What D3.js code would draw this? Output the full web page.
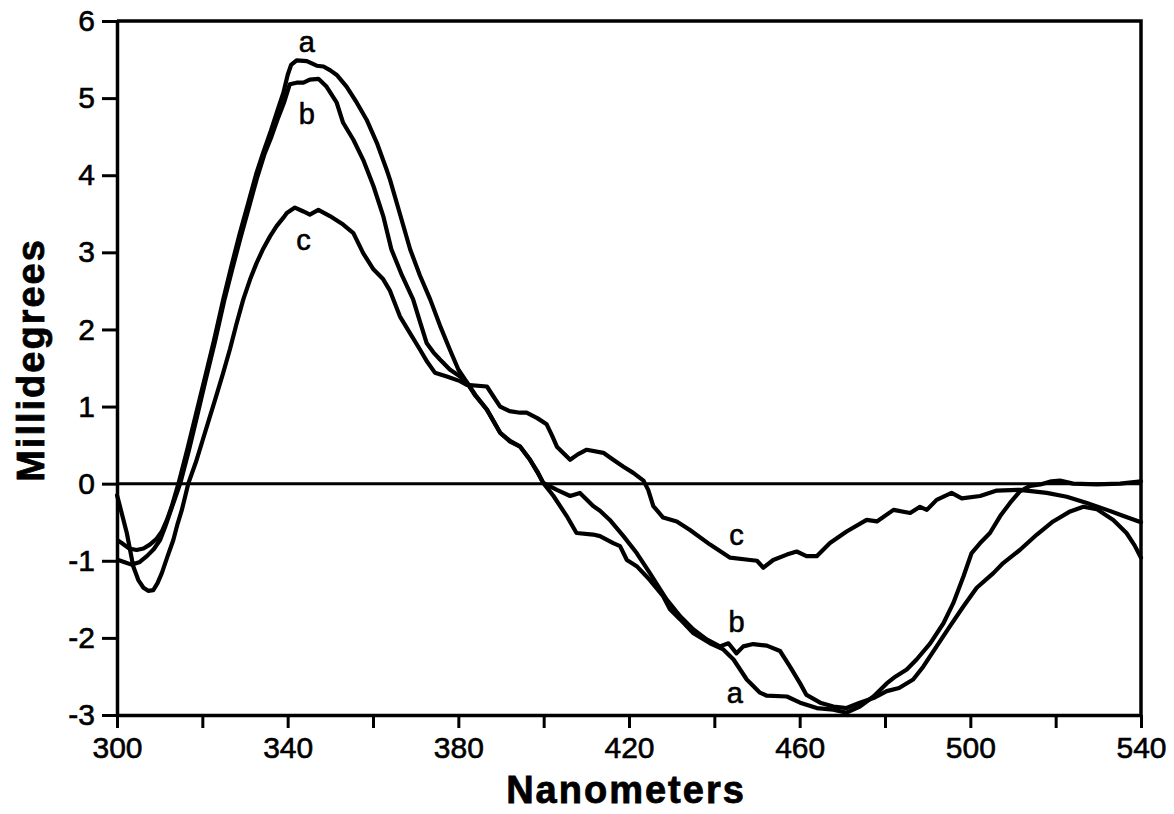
<!DOCTYPE html>
<html>
<head>
<meta charset="utf-8">
<script src="https://cdn.jsdelivr.net/npm/d3@7"></script>
<style>
  html, body { margin: 0; padding: 0; background: #fff; }
  svg { display: block; }
  text { font-family: "Liberation Sans", Arial, Helvetica, sans-serif; fill: #000; }
</style>
</head>
<body>
<svg id="chart" width="1174" height="814"></svg>
<script>
// ---- Data ----
const xTicks = [300, 320, 340, 360, 380, 400, 420, 440, 460, 480, 500, 520, 540];
const xTickLabels = ["300", "", "340", "", "380", "", "420", "", "460", "", "500", "", "540"];
const yTicks = [-3, -2, -1, 0, 1, 2, 3, 4, 5, 6];
const yTickLabels = ["-3", "-2", "-1", "0", "1", "2", "3", "4", "5", "6"];

const aX = [300.3,301.1,302.8,304.6,306.2,307.7,309.2,310.5,311.7,312.8,314.4,316.5,318.5,320.5,322.7,324.9,326.8,328.8,330.8,332.7,334.3,335.9,337.5,339.0,340.0,340.8,342.1,344.5,346.8,348.4,350.0,351.5,353.8,356.2,358.5,360.9,363.2,364.0,366.3,368.7,371.0,373.4,375.7,378.0,380.0,381.6,384.0,386.7,389.8,392.0,394.5,396.8,398.5,399.9,402.3,405.4,407.7,411.6,413.2,416.3,417.9,419.5,421.8,424.9,428.0,429.6,432.0,435.1,439.0,442.1,444.5,447.6,450.7,452.3,457.0,460.1,464.0,467.9,471.0,474.1,477.3,480.4,482.5,485.1,487.4,490.6,493.7,496.0,498.4,500.3,502.3,504.6,507.0,509.3,511.6,514.0,516.4,519.0,521.0,524.1,529.6,535.1,540.0];
const aY = [-0.74,-0.77,-0.84,-0.86,-0.84,-0.79,-0.72,-0.62,-0.47,-0.30,0.00,0.45,0.90,1.35,1.85,2.39,2.82,3.25,3.65,4.03,4.30,4.55,4.82,5.07,5.30,5.43,5.49,5.48,5.42,5.41,5.36,5.30,5.15,4.94,4.72,4.42,4.07,3.94,3.50,3.04,2.70,2.39,2.05,1.74,1.48,1.35,1.15,0.96,0.66,0.56,0.48,0.31,0.16,0.01,-0.16,-0.42,-0.64,-0.66,-0.68,-0.77,-0.81,-0.99,-1.07,-1.25,-1.46,-1.63,-1.76,-1.94,-2.07,-2.15,-2.28,-2.54,-2.71,-2.75,-2.76,-2.84,-2.91,-2.93,-2.97,-2.89,-2.76,-2.59,-2.50,-2.41,-2.28,-2.07,-1.81,-1.55,-1.20,-0.90,-0.77,-0.64,-0.42,-0.25,-0.10,-0.03,-0.01,0.03,0.04,0.00,-0.01,0.00,0.03];

const bX = [300.3,301.8,303.4,305.2,307.0,308.6,310.1,311.3,312.4,313.6,314.8,316.8,318.8,320.8,323.0,325.2,327.1,329.0,331.0,332.9,334.6,336.2,337.8,339.2,340.5,342.1,343.7,345.2,347.2,349.1,351.5,353.0,355.4,357.7,360.1,362.4,364.3,366.8,369.4,371.0,372.6,374.2,375.7,378.0,380.4,382.0,384.0,386.7,389.8,392.0,394.5,396.8,398.5,399.9,403.1,406.2,408.5,411.6,413.2,415.5,418.7,421.8,424.9,427.3,428.8,432.0,435.1,438.2,441.3,443.3,445.2,446.8,449.1,452.3,455.4,457.7,460.1,461.6,464.8,467.9,471.0,474.1,477.3,480.4,483.3,486.6,489.0,492.1,495.2,498.4,501.5,505.4,507.7,511.6,515.6,519.4,523.4,526.5,529.6,533.5,536.6,538.5,540.0];
const bY = [-0.99,-1.02,-1.05,-1.02,-0.94,-0.85,-0.73,-0.56,-0.38,-0.19,0.00,0.42,0.88,1.35,1.85,2.39,2.80,3.20,3.60,3.98,4.28,4.50,4.75,4.95,5.18,5.20,5.20,5.24,5.25,5.15,4.94,4.68,4.46,4.20,3.86,3.47,3.04,2.70,2.39,2.10,1.82,1.70,1.61,1.48,1.39,1.31,1.14,0.96,0.66,0.55,0.48,0.31,0.15,0.01,-0.08,-0.16,-0.12,-0.29,-0.35,-0.47,-0.68,-0.90,-1.16,-1.37,-1.50,-1.72,-1.89,-2.02,-2.11,-2.07,-2.20,-2.11,-2.08,-2.10,-2.17,-2.37,-2.59,-2.74,-2.84,-2.89,-2.91,-2.84,-2.78,-2.69,-2.65,-2.54,-2.37,-2.11,-1.85,-1.59,-1.35,-1.16,-1.03,-0.86,-0.66,-0.49,-0.36,-0.30,-0.33,-0.47,-0.64,-0.80,-0.96];

const cX = [300.0,300.3,302.3,303.8,305.0,306.2,307.3,308.5,309.5,310.5,311.8,313.2,314.2,315.2,316.7,318.5,320.0,321.5,323.0,324.8,326.5,328.0,329.6,331.2,332.7,334.3,335.9,337.4,339.0,339.8,341.7,343.7,345.2,347.2,349.9,353.0,355.4,357.7,360.1,362.4,364.0,366.3,368.7,371.0,372.7,374.5,377.3,380.4,382.0,386.7,388.0,389.8,392.0,394.5,396.0,398.5,400.7,402.0,403.1,406.2,408.0,410.1,414.0,416.3,418.7,421.0,423.4,424.5,425.7,428.0,431.2,434.3,439.0,443.7,448.4,450.0,451.5,453.8,457.0,459.3,461.6,464.0,467.1,471.0,475.7,478.1,482.0,485.9,488.2,489.8,492.1,495.6,498.0,502.3,506.2,511.6,517.9,522.6,527.3,532.0,535.9,540.0];
const cY = [-0.15,-0.21,-0.64,-1.07,-1.25,-1.35,-1.39,-1.38,-1.29,-1.16,-0.95,-0.73,-0.52,-0.34,0.00,0.28,0.55,0.82,1.09,1.42,1.75,2.07,2.39,2.65,2.86,3.05,3.21,3.34,3.45,3.51,3.58,3.53,3.49,3.55,3.47,3.36,3.25,2.99,2.78,2.65,2.50,2.17,1.95,1.74,1.58,1.44,1.39,1.33,1.28,1.26,1.15,1.00,0.94,0.92,0.92,0.85,0.77,0.62,0.48,0.31,0.38,0.44,0.40,0.31,0.22,0.14,0.04,-0.08,-0.29,-0.44,-0.49,-0.60,-0.79,-0.96,-0.99,-1.00,-1.09,-0.99,-0.92,-0.88,-0.94,-0.94,-0.77,-0.62,-0.47,-0.49,-0.34,-0.38,-0.30,-0.34,-0.21,-0.12,-0.19,-0.16,-0.09,-0.08,-0.12,-0.17,-0.25,-0.34,-0.42,-0.50];

const curveLabels = [
  { name: "a", x: 344.5, y: 5.73 },
  { name: "b", x: 344.5, y: 4.79 },
  { name: "c", x: 343.7, y: 3.16 },
  { name: "c", x: 445.2, y: -0.66 },
  { name: "b", x: 445.2, y: -1.79 },
  { name: "a", x: 444.8, y: -2.71 }
];
const xTitle = "Nanometers";
const yTitle = "Millidegrees";

// ---- Drawing ----
const svg = d3.select("#chart");
const plotLeft = 117, plotRight = 1141, plotTop = 21, plotBottom = 715;

const x = d3.scaleLinear().domain([300, 540]).range([plotLeft, plotRight]);
const y = d3.scaleLinear().domain([-3, 6]).range([plotBottom, plotTop]);

const series = [
  aX.map((v, i) => [v, aY[i]]),
  bX.map((v, i) => [v, bY[i]]),
  cX.map((v, i) => [v, cY[i]])
];

// zero line
svg.append("line")
  .attr("x1", x(300)).attr("x2", x(540))
  .attr("y1", y(0)).attr("y2", y(0))
  .attr("stroke", "#000").attr("stroke-width", 3);

// curves
const line = d3.line().x(d => x(d[0])).y(d => y(d[1])).curve(d3.curveLinear);
svg.append("g").selectAll("path")
  .data(series)
  .join("path")
  .attr("d", line)
  .attr("fill", "none")
  .attr("stroke", "#000")
  .attr("stroke-width", 4.2)
  .attr("stroke-linejoin", "round")
  .attr("stroke-linecap", "round");

// frame (top & right)
svg.append("path")
  .attr("d", `M${plotLeft},${plotTop}H${plotRight}V${plotBottom}`)
  .attr("fill", "none").attr("stroke", "#000").attr("stroke-width", 3.5);

// x axis
const xAxis = d3.axisBottom(x)
  .tickValues(xTicks)
  .tickFormat((d, i) => xTickLabels[i])
  .tickSize(13).tickSizeOuter(0).tickPadding(9);
const gx = svg.append("g").attr("transform", `translate(0,${plotBottom})`).call(xAxis);
gx.select(".domain").attr("stroke-width", 3.5);
gx.selectAll(".tick line").attr("stroke-width", 3);
gx.selectAll(".tick text").style("font-size", "30px")
  .style("font-family", '"Liberation Sans", Arial, sans-serif')
  .attr("stroke", "#000").attr("stroke-width", 0.6);

// y axis
const yAxis = d3.axisLeft(y)
  .tickValues(yTicks)
  .tickFormat((d, i) => yTickLabels[i])
  .tickSize(15).tickSizeOuter(0).tickPadding(7);
const gy = svg.append("g").attr("transform", `translate(${plotLeft},0)`).call(yAxis);
gy.select(".domain").attr("stroke-width", 3.5);
gy.selectAll(".tick line").attr("stroke-width", 3);
gy.selectAll(".tick text").style("font-size", "30px")
  .style("font-family", '"Liberation Sans", Arial, sans-serif')
  .attr("stroke", "#000").attr("stroke-width", 0.6);

// curve labels
svg.append("g").selectAll("text")
  .data(curveLabels)
  .join("text")
  .attr("x", d => x(d.x))
  .attr("y", d => y(d.y))
  .attr("text-anchor", "middle")
  .attr("dominant-baseline", "central")
  .attr("stroke", "#000").attr("stroke-width", 0.6)
  .style("font-size", "29px")
  .text(d => d.name);

// axis titles
svg.append("text")
  .attr("x", (plotLeft + plotRight) / 2 - 3)
  .attr("y", 803)
  .attr("text-anchor", "middle")
  .attr("stroke", "#000").attr("stroke-width", 0.8)
  .style("font-size", "38px")
  .style("font-weight", "bold")
  .style("letter-spacing", "2px")
  .text(xTitle);

svg.append("text")
  .attr("transform", `translate(44,${(plotTop + plotBottom) / 2 - 8}) rotate(-90)`)
  .attr("text-anchor", "middle")
  .attr("stroke", "#000").attr("stroke-width", 0.8)
  .style("font-size", "38px")
  .style("font-weight", "bold")
  .style("letter-spacing", "2px")
  .text(yTitle);
</script>
</body>
</html>
